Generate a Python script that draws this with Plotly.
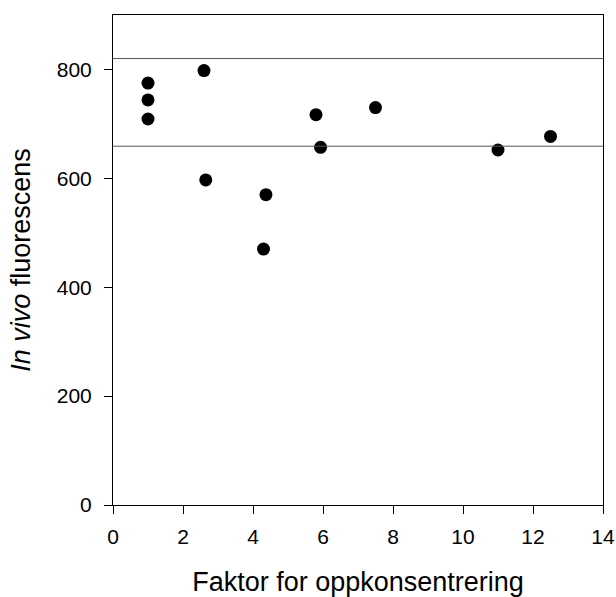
import plotly.graph_objects as go

# Measured in vivo fluorescence against concentration factor
faktor = [1.0, 1.0, 1.0, 2.6, 2.65, 4.3, 4.37, 5.8, 5.93, 7.5, 11.0, 12.5]
fluorescens = [775, 744, 709, 798, 597, 470, 570, 717, 657, 730, 652, 677]

# Reference band limits (horizontal lines)
band_upper = 820
band_lower = 659

x_ticks = [0, 2, 4, 6, 8, 10, 12, 14]
y_ticks = [0, 200, 400, 600, 800]

fig = go.Figure()
fig.add_trace(go.Scatter(
    x=faktor, y=fluorescens, mode="markers",
    marker=dict(color="black", size=13, line=dict(width=0)),
    showlegend=False,
))

for level in (band_upper, band_lower):
    fig.add_shape(type="line", xref="x domain", yref="y", x0=0, x1=1,
                  y0=level, y1=level, line=dict(color="#555555", width=1))

font_family = "Liberation Sans, Arial, sans-serif"

fig.update_layout(
    width=616, height=597,
    margin=dict(l=113, r=13, t=15, b=92),
    paper_bgcolor="white", plot_bgcolor="white",
    font=dict(family=font_family, color="black", size=21),
    xaxis=dict(
        range=[0, 14], tickvals=x_ticks, ticks="outside", ticklen=8,
        ticklabelstandoff=5, automargin=False,
        tickcolor="black", showline=True, linecolor="black", linewidth=1,
        mirror=True, showgrid=False, zeroline=False,
        title=dict(text="Faktor for oppkonsentrering", font=dict(size=27), standoff=26),
    ),
    yaxis=dict(
        range=[0, 900], tickvals=y_ticks, ticks="outside", ticklen=8,
        ticklabelstandoff=8, automargin=False,
        tickcolor="black", showline=True, linecolor="black", linewidth=1,
        mirror=True, showgrid=False, zeroline=False,
        title=dict(text="<i>In vivo</i> fluorescens", font=dict(size=27), standoff=18),
    ),
)

fig.write_html("out.html")
